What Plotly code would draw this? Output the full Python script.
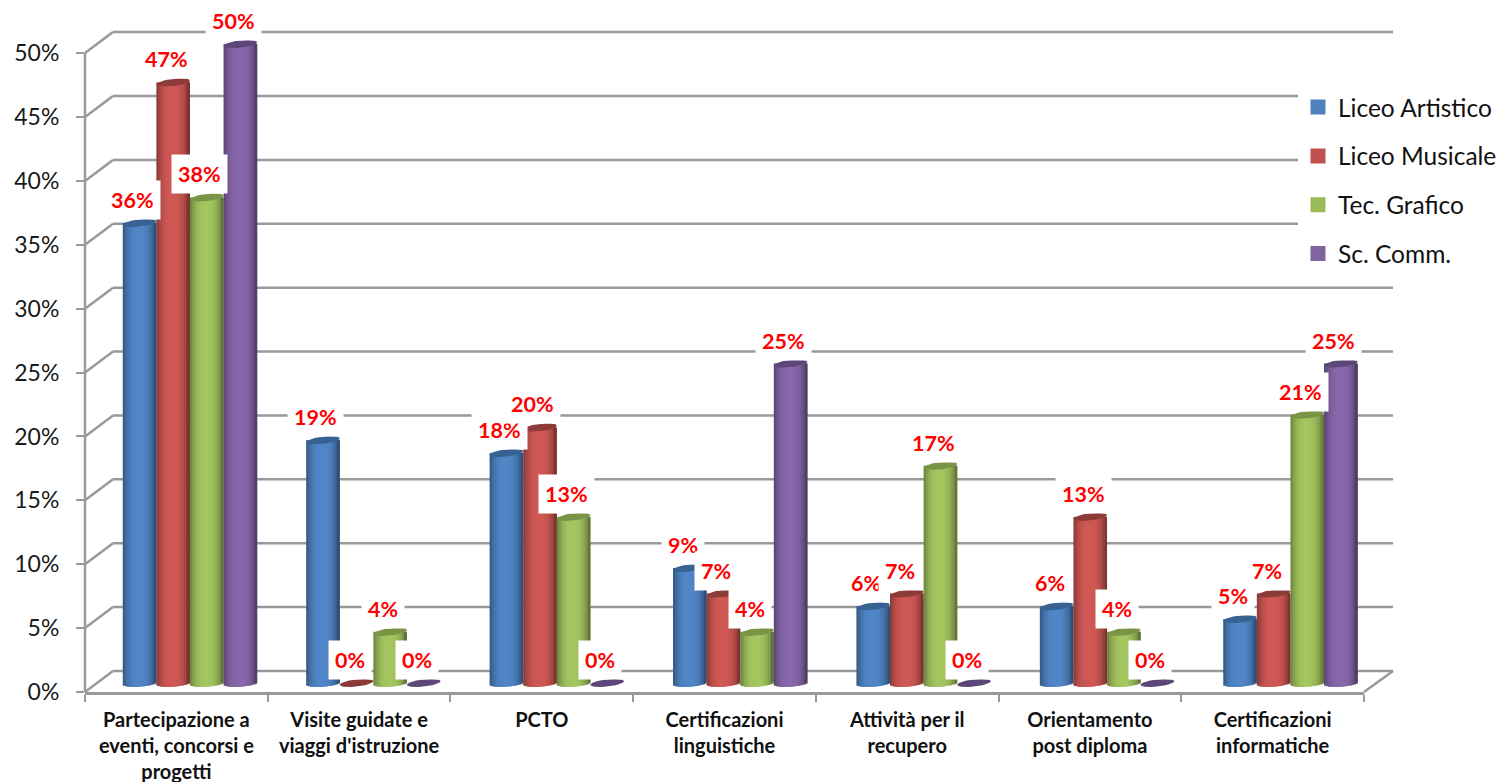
import plotly.graph_objects as go
import math

categories = ["Partecipazione a<br>eventi, concorsi e<br>progetti", "Visite guidate e<br>viaggi d'istruzione", "PCTO",
              "Certificazioni<br>linguistiche", "Attività per il<br>recupero", "Orientamento<br>post diploma",
              "Certificazioni<br>informatiche"]
liceo_artistico = [36, 19, 18, 9, 6, 6, 5]
liceo_musicale = [47, 0, 20, 7, 7, 13, 7]
tec_grafico = [38, 4, 13, 4, 17, 4, 21]
sc_comm = [50, 0, 0, 25, 0, 0, 25]
series_names = ["Liceo Artistico", "Liceo Musicale", "Tec. Grafico", "Sc. Comm."]
series_values = [liceo_artistico, liceo_musicale, tec_grafico, sc_comm]
y_ticks = [0, 5, 10, 15, 20, 25, 30, 35, 40, 45, 50]

W, H = 1500, 782
Y_MAX = 54
PCT_PX = 12.77
L, R, B = 85, 136, 90
PH = Y_MAX * PCT_PX
T = H - B - PH
PW = W - L - R
CAT_PX = PW / 7

legend_rgb = [(79, 129, 189), (192, 80, 77), (155, 187, 89), (128, 100, 162)]
mid_rgb = [(80, 134, 200), (208, 88, 84), (164, 198, 96), (136, 104, 172)]
top_rgb = [(55, 98, 145), (140, 59, 57), (122, 148, 70), (92, 71, 120)]

BAR_W = 33.6 / CAT_PX
FLOOR = 9 / PCT_PX          # cylinders stand behind the front edge of the floor
CAP_H = 3.6 / PCT_PX
TILT = 1.8 / PCT_PX
N_STRIPS = 17
GRID = "#999999"


def rgb(c):
    return "rgb(%d,%d,%d)" % tuple(max(0, min(255, round(v))) for v in c)


def shade(c, t):
    k = 1 - 0.42 * abs(t + 0.05) ** 2.6
    return tuple(v * k for v in c)


def group_shift(i):
    return (13.6 + 0.7 * i) / CAT_PX


def bar_center(i, s):
    return i + group_shift(i) + (s - 1.5) * BAR_W


fig = go.Figure()

for s, vals in enumerate(series_values):
    for k in range(N_STRIPS):
        t = -1 + (2 * k + 1) / N_STRIPS
        drop = CAP_H * math.sqrt(max(0, 1 - t * t)) - TILT * t * 0.9
        strip = BAR_W / N_STRIPS
        left = -BAR_W / 2 + k * strip
        width = min(strip * 2.2, BAR_W / 2 - left)
        fig.add_trace(go.Bar(
            x=list(range(7)), y=[v + drop if v > 0 else 0 for v in vals],
            base=[FLOOR - drop] * 7,
            width=width,
            offset=[group_shift(i) + (s - 1.5) * BAR_W + left for i in range(7)],
            marker=dict(color=rgb(shade(mid_rgb[s], t)), line=dict(width=0)),
            showlegend=False, hoverinfo="skip"))

# cylinder tops (tilted ellipses)
for s, vals in enumerate(series_values):
    for i, v in enumerate(vals):
        xs, ys = [], []
        for a in range(0, 361, 10):
            r = math.radians(a)
            xs.append(bar_center(i, s) + BAR_W / 2 * math.cos(r))
            ys.append(v + FLOOR + CAP_H * math.sin(r) + TILT * math.cos(r))
        fig.add_trace(go.Scatter(
            x=xs, y=ys, mode="lines", fill="toself",
            fillcolor=rgb(top_rgb[s]), line=dict(width=0, color=rgb(top_rgb[s])),
            showlegend=False, hoverinfo="skip"))

# legend entries
for s, name in enumerate(series_names):
    fig.add_trace(go.Scatter(
        x=[None], y=[None], mode="markers", name=name, legendgroup=name,
        marker=dict(symbol="square", size=15, color=rgb(legend_rgb[s]))))

# back wall, side wall and floor
DX, DY = 28 / PW, 21 / PH
RIGHT_END = (1393 - L) / PW
line = dict(color=GRID, width=2.5)
shapes = [dict(type="line", xref="paper", yref="paper", layer="below",
               x0=0, y0=0, x1=0, y1=50 / Y_MAX, line=line)]
for v in y_ticks:
    yp = v / Y_MAX
    shapes.append(dict(type="line", xref="paper", yref="paper", layer="below",
                       x0=0, y0=yp, x1=DX, y1=yp + DY, line=line))
    shapes.append(dict(type="line", xref="paper", yref="paper", layer="below",
                       x0=DX, y0=yp + DY, x1=RIGHT_END, y1=yp + DY, line=line))
shapes.append(dict(type="line", xref="paper", yref="paper", layer="below",
                   x0=1, y0=0, x1=RIGHT_END, y1=DY, line=line))

# value labels
annotations = []
for s, vals in enumerate(series_values):
    for i, v in enumerate(vals):
        annotations.append(dict(
            xref="x", yref="y",
            x=bar_center(i, s) - 7 / CAT_PX,
            y=v + FLOOR + 23 / PCT_PX,
            text="%d%%" % v, showarrow=False, xanchor="center", yanchor="middle",
            font=dict(family="Lato", size=21.5, color="#ff0000", weight="bold"),
            bgcolor="#ffffff", borderpad=6))

fig.update_layout(
    width=W, height=H, autosize=False,
    margin=dict(l=L, r=R, t=T, b=B, pad=0, autoexpand=False),
    paper_bgcolor="#ffffff", plot_bgcolor="rgba(0,0,0,0)",
    barmode="overlay", shapes=shapes, annotations=annotations,
    font=dict(family="Lato", color="#1a1a1a"),
    hovermode=False,
    legend=dict(x=(1298 - L) / PW, y=1 - (85 - T) / PH, xanchor="left", yanchor="top",
                bgcolor="#ffffff", font=dict(family="Lato", size=24.5, color="#111111"),
                tracegroupgap=14, traceorder="grouped", borderwidth=0),
    xaxis=dict(range=[-0.5, 6.5], tickmode="array", tickvals=list(range(7)), ticktext=categories,
               ticks="", showgrid=False, zeroline=False, showline=True, linecolor=GRID, linewidth=3,
               automargin=False, tickangle=0, ticklabelstandoff=8,
               tickfont=dict(family="Lato", size=20, color="#111111", weight="bold"),
               minor=dict(tickmode="array", tickvals=[i - 0.5 for i in range(8)], ticks="outside",
                          ticklen=7, tickwidth=2, tickcolor=GRID, showgrid=False)),
    yaxis=dict(range=[0, Y_MAX], tickmode="array", tickvals=y_ticks, ticktext=["%d%%" % v for v in y_ticks],
               ticks="outside", ticklen=8, tickwidth=2, tickcolor=GRID, showgrid=False, zeroline=False,
               showline=False, automargin=False,
               tickfont=dict(family="Lato", size=23, color="#1a1a1a"), ticklabelstandoff=12),
)

fig.write_html("out.html", config={"displayModeBar": False},
               post_script="document.body.style.margin='0';document.body.style.overflow='hidden';")
